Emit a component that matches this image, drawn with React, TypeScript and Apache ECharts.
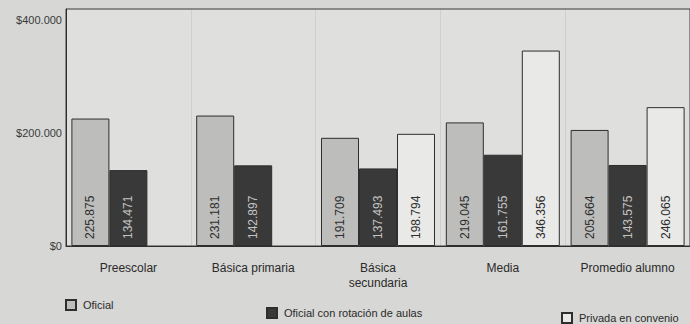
import React, { useEffect, useRef } from "react";
import * as echarts from "echarts";

const categories = ["Preescolar", "Básica primaria", "Básica\nsecundaria", "Media", "Promedio alumno"];
const oficial = [225875, 231181, 191709, 219045, 205664];
const rotacion = [134471, 142897, 137493, 161755, 143575];
const privada: (number | null)[] = [null, null, 198794, 346356, 246065];
const seriesNames = ["Oficial", "Oficial con rotación de aulas", "Privada en convenio"];
const yTicks = [0, 200000, 400000];

const fmt = (v: number) => String(Math.round(v)).replace(/\B(?=(\d{3})+(?!\d))/g, ".");
const FONT = "Liberation Sans, Arial, sans-serif";

export default function App() {
  const ref = useRef<HTMLDivElement>(null);
  useEffect(() => {
    document.body.style.margin = "0";
    const chart = echarts.init(ref.current!, null, { renderer: "svg" });
    const labelBase = {
      show: true,
      position: "insideBottom" as const,
      rotate: 90,
      align: "left" as const,
      verticalAlign: "middle" as const,
      distance: 7,
      fontSize: 12,
      fontFamily: FONT,
      formatter: (p: any) => fmt(p.value),
    };
    const mk = (name: string, data: (number | null)[], color: string, labelColor: string) => ({
      name,
      type: "bar",
      data,
      barWidth: 38,
      barGap: "0%",
      itemStyle: { color, borderColor: "#2e2e2e", borderWidth: 1 },
      label: { ...labelBase, color: labelColor },
    });
    const legendBase = {
      icon: "rect",
      itemWidth: 10,
      itemHeight: 10,
      textStyle: { fontFamily: FONT, fontSize: 11, color: "#2a2a2a", padding: [0, 0, 0, 2] },
      padding: 0,
    };
    chart.setOption({
      animation: false,
      backgroundColor: "#d7d7d5",
      textStyle: { fontFamily: FONT },
      grid: {
        left: 66,
        top: 9,
        width: 630,
        bottom: 78,
        show: true,
        backgroundColor: "#dfdfde",
        borderColor: "#3a3a3a",
        borderWidth: 1,
      },
      legend: [
        { ...legendBase, data: [seriesNames[0]], left: 65, top: 299 },
        { ...legendBase, data: [seriesNames[1]], left: 266, top: 307 },
        { ...legendBase, data: [seriesNames[2]], left: 561, top: 312 },
      ],
      xAxis: {
        type: "category",
        data: categories,
        axisLine: { show: true, lineStyle: { color: "#2e2e2e", width: 1 } },
        axisTick: { show: false },
        splitLine: { show: true, lineStyle: { color: "rgba(0,0,0,0.07)" } },
        axisLabel: {
          fontSize: 12,
          fontFamily: FONT,
          color: "#2a2a2a",
          margin: 14,
          lineHeight: 15,
          interval: 0,
        },
      },
      yAxis: {
        type: "value",
        min: 0,
        max: 420000,
        interval: 200000,
        axisLine: { show: true, lineStyle: { color: "#2e2e2e" } },
        axisTick: { show: false },
        splitLine: { show: false },
        axisLabel: {
          showMaxLabel: false,
          fontSize: 11,
          fontFamily: FONT,
          color: "#3a3a3a",
          margin: 4,
          formatter: (v: number) => (yTicks.includes(v) ? "$" + fmt(v) : ""),
        },
      },
      series: [
        mk(seriesNames[0], oficial, "#bdbdbc", "#2e2e2e"),
        mk(seriesNames[1], rotacion, "#393939", "#c4c4c2"),
        mk(seriesNames[2], privada, "#e9e9e8", "#2e2e2e"),
      ],
    });
    return () => chart.dispose();
  }, []);
  return <div ref={ref} style={{ width: 690, height: 324 }} />;
}
